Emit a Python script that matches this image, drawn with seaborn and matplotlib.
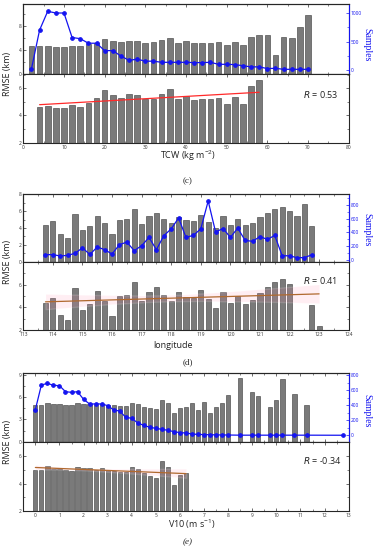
import numpy as np
import seaborn as sns
import matplotlib.pyplot as plt
from matplotlib.ticker import MultipleLocator, FixedLocator

# ---------------- (c) total column water ----------------
tcw_bins_top = list(range(2, 72, 2))
tcw_rmse_top = [4.75, 4.6, 4.65, 4.55, 4.55, 4.75, 4.7, 5.0, 5.25, 5.9,
                5.55, 5.3, 5.55, 5.5, 5.25, 5.3, 5.6, 5.95, 5.25, 5.45,
                5.2, 5.2, 5.2, 5.3, 4.9, 5.4, 4.85, 6.2, 6.6, 6.55,
                3.2, 6.2, 6.05, 7.8, 9.9]
tcw_samples = [18, 700, 1030, 1000, 1000, 570, 550, 470, 470, 340,
               340, 245, 170, 190, 155, 155, 135, 135, 135, 135,
               130, 130, 135, 100, 100, 95, 75, 55, 55, 25,
               30, 12, 12, 12, 12]
tcw_bins = list(range(4, 60, 2))
tcw_rmse = [4.63, 4.67, 4.53, 4.55, 4.77, 4.65, 4.9, 5.29, 5.9, 5.5,
            5.29, 5.58, 5.48, 5.21, 5.24, 5.58, 5.97, 5.19, 5.41, 5.17,
            5.2, 5.2, 5.27, 4.88, 5.35, 4.84, 6.2, 6.58]

# ---------------- (d) longitude ----------------
lon_bins_top = list(np.arange(113.75, 122.8, 0.25))
lon_rmse = [4.37, 4.79, 3.3, 2.86, 5.73, 3.8, 4.28, 5.44, 4.6, 3.27,
            4.99, 5.05, 6.24, 4.52, 5.38, 5.79, 5.05, 4.58, 5.32, 4.93,
            4.84, 5.5, 4.76, 3.96, 5.38, 4.4, 5.02, 4.31, 4.64, 5.26,
            5.79, 6.27, 6.53, 6.03]
lon_rmse_top = lon_rmse + [5.44, 6.88, 4.2]
lon_samples = [78, 78, 58, 68, 97, 177, 80, 189, 150, 87,
               223, 260, 136, 208, 328, 150, 354, 453, 611, 328,
               359, 453, 858, 407, 458, 330, 463, 284, 272, 340,
               300, 357, 63, 60, 34, 34, 75]
lon_bins = lon_bins_top[:34] + [122.75, 123.0]
lon_rmse_bot = lon_rmse + [4.22, 2.36]

# ---------------- (e) 10 m wind speed ----------------
v10_bins_dense = list(np.arange(0, 8.01, 0.25))
v10_bins_sparse = [8.5, 9.0, 9.25, 9.75, 10.0, 10.25, 10.75, 11.25]
v10_rmse_dense = [5.0, 5.0, 5.28, 5.05, 5.05, 4.96, 4.92, 5.23, 5.1, 5.14,
                  5.0, 5.14, 5.0, 4.92, 4.83, 4.83, 5.23, 5.05, 4.74, 4.51,
                  4.42, 5.64, 5.23, 3.88, 4.6, 4.74, 5.19, 4.25, 5.3, 3.9,
                  4.7, 5.2, 6.3]
v10_rmse_sparse = [8.6, 6.65, 6.15, 4.7, 5.6, 8.45, 6.5, 4.95]
v10_samples = [342, 671, 693, 667, 662, 582, 573, 582, 480, 418,
               418, 418, 396, 338, 324, 240, 227, 164, 133, 107,
               93, 80, 67, 49, 36, 31, 18, 12, 10, 8,
               6, 5, 4, 2, 2, 2, 2, 2, 2, 2, 2, 1]
v10_line_x = v10_bins_dense + v10_bins_sparse + [12.75]
v10_bins = v10_bins_dense[:26]
v10_rmse = v10_rmse_dense[:26]

GRAY = '#7a7a7a'
EDGE = '#3a3a3a'
BLUE = '#1414f0'
W, H = 378, 550

sns.set_style('ticks')
plt.rcParams['font.family'] = ['Open Sans', 'DejaVu Sans']
plt.rcParams['mathtext.default'] = 'regular'

fig = plt.figure(figsize=(W / 100, H / 100), dpi=100)


def rect(y0, y1):
    # pixel rows -> figure rect
    return [23.3 / W, 1 - y1 / H, (348.7 - 23.3) / W, (y1 - y0) / H]


def ticks(ax, labelsize=3.5):
    ax.tick_params(which='major', direction='in', length=2.2, width=0.5,
                   labelsize=labelsize, pad=1.5, colors='#333333')
    ax.tick_params(which='minor', direction='in', length=1.2, width=0.4)
    for s in ax.spines.values():
        s.set_linewidth(0.8)


def bars(ax, x, y):
    sns.barplot(x=x, y=y, ax=ax, native_scale=True, width=0.7, color=GRAY,
                saturation=1, edgecolor=EDGE, linewidth=0.4, errorbar=None)


def panel(top_px, mid_px, bot_px, xlim, xmaj, xmin_,
          xt, yt, xs, samp, top_ylim, top_maj, top_min, right_ylim, right_maj,
          xb, yb, bot_top, fit_color, band):
    # upper: RMSE bars + number of samples
    ax = fig.add_axes(rect(top_px, mid_px))
    bars(ax, xt, yt)
    ax.set_xlim(*xlim)
    ax.set_ylim(*top_ylim)
    ax.xaxis.set_major_locator(MultipleLocator(xmaj))
    ax.xaxis.set_minor_locator(MultipleLocator(xmin_))
    ax.yaxis.set_major_locator(MultipleLocator(top_maj))
    ax.yaxis.set_minor_locator(MultipleLocator(top_min))
    ticks(ax)
    ax.tick_params(which='both', top=True, labelbottom=False)
    ax.set_xlabel('')
    ax.set_ylabel('')

    ax2 = ax.twinx()
    sns.lineplot(x=xs, y=samp, ax=ax2, color=BLUE, marker='o', markersize=2.6,
                 markeredgecolor=BLUE, linewidth=0.9, errorbar=None)
    ax2.set_ylim(*right_ylim)
    ax2.yaxis.set_major_locator(MultipleLocator(right_maj))
    ax2.yaxis.set_minor_locator(MultipleLocator(right_maj / 2))
    ticks(ax2)
    ax2.tick_params(which='both', colors=BLUE)
    ax2.spines['right'].set_color(BLUE)
    ax2.set_ylabel('')

    # lower: RMSE bars + linear fit
    axb = fig.add_axes(rect(mid_px, bot_px))
    bars(axb, xb, yb)
    if band:
        sns.regplot(x=xb, y=yb, ax=axb, scatter=False, ci=95, seed=0,
                    color='#ff8fb0', line_kws=dict(alpha=0))
    sns.regplot(x=xb, y=yb, ax=axb, scatter=False, ci=None, color=fit_color,
                line_kws=dict(linewidth=0.9))
    axb.set_xlim(*xlim)
    axb.set_ylim(2, bot_top)
    axb.xaxis.set_major_locator(MultipleLocator(xmaj))
    axb.xaxis.set_minor_locator(MultipleLocator(xmin_))
    axb.yaxis.set_major_locator(FixedLocator([2, 4, 6]))
    axb.yaxis.set_minor_locator(MultipleLocator(1))
    ticks(axb)
    axb.tick_params(which='both', top=True, right=True)
    axb.set_xlabel('')
    axb.set_ylabel('')
    return ax, axb


panel(4, 74, 142.7, (0, 80), 10, 5,
      tcw_bins_top, tcw_rmse_top, tcw_bins_top, tcw_samples,
      (0, 11.7), 4, 2, (-70, 1158), 500,
      tcw_bins, tcw_rmse, 7.05, '#ff2a2a', False)

panel(194, 261.7, 330, (113, 124), 1, 0.5,
      lon_bins_top, lon_rmse_top, lon_bins_top, lon_samples,
      (0, 8.05), 2, 1, (-25, 960), 200,
      lon_bins, lon_rmse_bot, 8.03, '#b0692e', True)

panel(373.3, 441.7, 511, (-0.5, 13), 1, 0.5,
      v10_bins_dense + v10_bins_sparse, v10_rmse_dense + v10_rmse_sparse,
      v10_line_x, v10_samples,
      (0, 9.24), 3, 1.5, (-85, 827), 200,
      v10_bins, v10_rmse, 7.04, '#b0692e', True)

# shared labels
lab = dict(fontsize=6.5, color='#222222')
for yc in (74, 262, 442):
    fig.text(8 / W, 1 - yc / H, 'RMSE (km)', rotation=90, ha='center', va='center', **lab)
for yc in (45, 230, 411):
    fig.text(367 / W, 1 - yc / H, 'Samples', rotation=270, ha='center', va='center',
             fontsize=7, color=BLUE, family=['Liberation Serif', 'DejaVu Serif'])

fig.text(188 / W, 1 - 156 / H, 'TCW (kg m$^{-2}$)', ha='center', va='center', **lab)
fig.text(173 / W, 1 - 345 / H, 'longitude', ha='center', va='center', **lab)
fig.text(192 / W, 1 - 524 / H, 'V10 (m s$^{-1}$)', ha='center', va='center', **lab)

for yc, cap in ((181, '(c)'), (362, '(d)'), (542, '(e)')):
    fig.text(188 / W, 1 - yc / H, cap, ha='center', va='center', fontsize=6.5,
             family=['Liberation Serif', 'DejaVu Serif'],
             style='italic' if cap == '(e)' else 'normal')

for yc, txt in ((94, '0.53'), (281, '0.41'), (461, '-0.34')):
    fig.text(303 / W, 1 - yc / H, r'$\mathit{R}$ = ' + txt, ha='left', va='center', **lab)

fig.savefig('out.png', dpi=100)
